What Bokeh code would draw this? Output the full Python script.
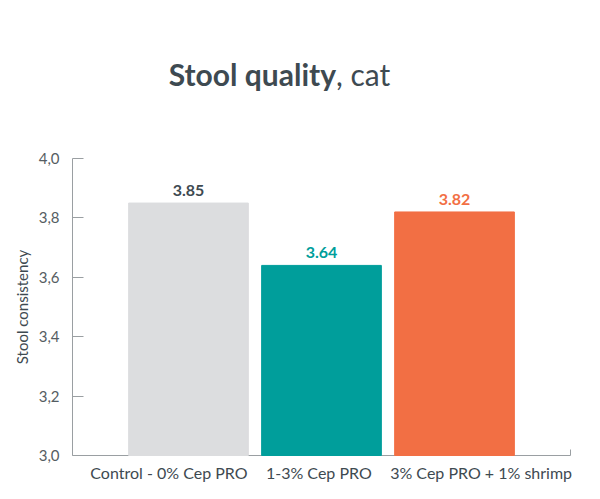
from bokeh.plotting import figure
from bokeh.models import (ColumnDataSource, Range1d, FixedTicker, CustomJSTickFormatter,
                          LabelSet, Div)
from bokeh.layouts import column
from bokeh.core.properties import value
from bokeh.embed import file_html
from bokeh.resources import INLINE

# ---- data ----
categories = ["Control - 0% Cep PRO", "1-3% Cep PRO", "3% Cep PRO + 1% shrimp"]
values = [3.85, 3.64, 3.82]
value_labels = ["3.85", "3.64", "3.82"]
bar_colors = ["#dcdddf", "#009e9b", "#f26f44"]
label_colors = ["#3e4a51", "#009e9b", "#f26f44"]
y_ticks = [3.0, 3.2, 3.4, 3.6, 3.8, 4.0]
title_bold = "Stool quality"
title_rest = ", cat"
y_title = "Stool consistency"

FONT = "Lato"
DARK = "#3e4a51"
AXIS = "#9a9fa2"
# horizontal nudge of each category label relative to its bar (style only)
label_nudge = [-0.147, -0.02, 0.2]

title = Div(
    text=(f'<div style="width:549px;text-align:center;padding-top:54px;line-height:1;'
          f'font-family:{FONT};font-size:30px;color:{DARK};white-space:nowrap">'
          f'<b>{title_bold}</b>{title_rest}</div>'),
    width=584, height=100)

x = list(range(len(categories)))
src = ColumnDataSource(dict(x=x, top=values, color=bar_colors, lab=value_labels, lcol=label_colors))

x_range = Range1d(-0.872, 2.872)
p = figure(width=584, height=383, x_range=x_range, y_range=Range1d(y_ticks[0], y_ticks[-1]),
           output_backend="svg", toolbar_location=None,
           min_border_left=72, min_border_right=14, min_border_top=48, min_border_bottom=38)
p.outline_line_color = None
p.grid.visible = False

# bars drawn above the axis so that the label ticks stay hidden beneath them
p.vbar(x="x", top="top", bottom=y_ticks[0], width=0.9, color="color", source=src,
       level="overlay")

# value labels
p.add_layout(LabelSet(x="x", y="top", text="lab", source=src, text_color="lcol",
                      text_align="center", text_baseline="alphabetic", y_offset=7,
                      text_font=value(FONT), text_font_size=value("16px"),
                      text_font_style="bold"))

# y axis
ya = p.yaxis[0]
ya.ticker = FixedTicker(ticks=y_ticks)
ya.formatter = CustomJSTickFormatter(code="return tick.toFixed(1).replace('.', ',');")
ya.major_tick_in = 11
ya.major_tick_out = 0
ya.minor_tick_line_color = None
ya.axis_line_color = AXIS
ya.major_tick_line_color = AXIS
ya.major_label_standoff = 13
ya.major_label_text_font = FONT
ya.major_label_text_font_size = "15px"
ya.major_label_text_color = "#555d62"
ya.axis_label = y_title
ya.axis_label_text_font = FONT
ya.axis_label_text_font_size = "15px"
ya.axis_label_text_font_style = "normal"
ya.axis_label_text_color = DARK
ya.axis_label_standoff = 5

# x axis: category labels plus a closing tick at the right end
xa = p.xaxis[0]
xa.ticker = FixedTicker(ticks=[xi + d for xi, d in zip(x, label_nudge)] + [x_range.end])
xa.formatter = CustomJSTickFormatter(
    args=dict(cats=categories),
    code="const i = Math.round(tick); return (i >= 0 && i < cats.length && Math.abs(tick - i) < 0.5) ? cats[i] : '';")
xa.major_tick_in = 6
xa.major_tick_out = 0
xa.minor_tick_line_color = None
xa.axis_line_color = AXIS
xa.major_tick_line_color = AXIS
xa.major_label_standoff = 7
xa.major_label_text_font = FONT
xa.major_label_text_font_size = "16px"
xa.major_label_text_color = DARK

layout = column(title, p, spacing=0)
open("out.html", "w").write(file_html(layout, INLINE))
